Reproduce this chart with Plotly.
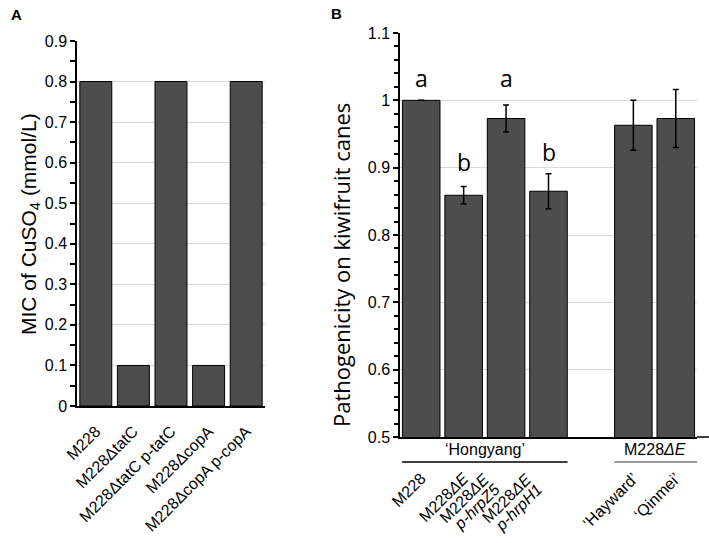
import plotly.graph_objects as go

# Panel A data
a_labels = ["M228", "M228ΔtatC", "M228ΔtatC p-tatC", "M228ΔcopA", "M228ΔcopA p-copA"]
a_values = [0.8, 0.1, 0.8, 0.1, 0.8]
a_ticks = [0, 0.1, 0.2, 0.3, 0.4, 0.5, 0.6, 0.7, 0.8, 0.9]

# Panel B data
b_positions = [0, 1, 2, 3, 5, 6]
b_single = ["M228", "M228<i>ΔE</i>", "", "", "‘Hayward’", "‘Qinmei’"]
b_multi_line1 = ["", "", "M228<i>ΔE</i>", "M228<i>ΔE</i>", "", ""]
b_multi_line2 = ["", "", "<i>p-hrpZ5</i>", "<i>p-hrpH1</i>", "", ""]
b_values = [1.0, 0.859, 0.973, 0.865, 0.963, 0.973]
b_errors = [0.0, 0.013, 0.020, 0.026, 0.037, 0.043]
b_letters = ["a", "b", "a", "b", "", ""]
b_letter_y = [1.033, 0.908, 1.033, 0.923, None, None]
b_ticks = [0.5, 0.6, 0.7, 0.8, 0.9, 1.0, 1.1]
b_ticktext = ["0.5", "0.6", "0.7", "0.8", "0.9", "1", "1.1"]
groups = ["‘Hongyang’", "M228<i>ΔE</i>"]
group_spans = [(0, 3), (5, 6)]

W, H = 709, 543
BAR = "#4d4d4d"
GRID = "#d9d9d9"
FONT = "Liberation Sans, Arial, sans-serif"
SLOT_PX = 297 / 7.0  # pixel width of one category slot in panel B

fig = go.Figure()
fig.add_trace(go.Bar(x=list(range(len(a_labels))), y=a_values, width=0.85,
                     marker=dict(color=BAR, line=dict(color="black", width=1)),
                     xaxis="x", yaxis="y", showlegend=False))
fig.add_trace(go.Bar(x=b_positions, y=b_values, width=0.885,
                     marker=dict(color=BAR, line=dict(color="black", width=1)),
                     error_y=dict(type="data", array=b_errors, color="black", thickness=1.5, width=3),
                     xaxis="x2", yaxis="y2", showlegend=False))
# invisible helpers so the overlay label axes are drawn
for ax in ["x3", "x4"]:
    fig.add_trace(go.Scatter(x=[0], y=[0.5], mode="markers", marker=dict(opacity=0), hoverinfo="skip",
                             xaxis=ax, yaxis="y2", showlegend=False))


def px_x(p):
    return p / W


def px_y(p):
    return 1 - p / H


tf = dict(family=FONT, size=16, color="black")
axis_common = dict(showline=True, linecolor="black", linewidth=1.5, automargin=False, tickfont=tf)
label_axis = dict(domain=[px_x(400), px_x(697)], anchor="y2", overlaying="x2", range=[-0.5, 6.5],
                  showline=False, showgrid=False, zeroline=False, ticks="", tickangle=-45,
                  automargin=False, tickfont=tf, tickmode="array")

fig.update_layout(
    width=W, height=H, margin=dict(l=0, r=0, t=0, b=0),
    paper_bgcolor="white", plot_bgcolor="white",
    xaxis=dict(domain=[px_x(77), px_x(265)], anchor="y", range=[-0.5, 4.5],
               tickmode="array", tickvals=list(range(len(a_labels))), ticktext=a_labels,
               tickangle=-45, ticks="", ticklabelstandoff=8, zeroline=False, showgrid=False, **axis_common),
    yaxis=dict(domain=[px_y(406), px_y(41)], anchor="x", range=[0, 0.9],
               tickmode="array", tickvals=a_ticks, ticktext=[("0" if v == 0 else f"{v:.1f}") for v in a_ticks],
               ticks="outside", ticklen=5, tickcolor="black", tickwidth=1.5,
               minor=dict(dtick=0.05, ticks="outside", ticklen=5, tickcolor="black", tickwidth=1.5, showgrid=False),
               showgrid=True, gridcolor=GRID, gridwidth=1, zeroline=False,
               **axis_common),
    xaxis2=dict(domain=[px_x(400), px_x(697)], anchor="y2", range=[-0.5, 6.5],
                tickmode="array", tickvals=[p for p, t in zip(b_positions, b_single) if t],
                ticktext=[t for t in b_single if t], tickangle=-45, ticklabelstandoff=24,
                ticks="", zeroline=False, showgrid=False, **axis_common),
    xaxis3=dict(tickvals=[p - 22 / SLOT_PX for p, t in zip(b_positions, b_multi_line1) if t],
                ticktext=[t for t in b_multi_line1 if t], ticklabelstandoff=29, **label_axis),
    xaxis4=dict(tickvals=[p - 11 / SLOT_PX for p, t in zip(b_positions, b_multi_line2) if t],
                ticktext=[t for t in b_multi_line2 if t], ticklabelstandoff=39, **label_axis),
    yaxis2=dict(domain=[px_y(437), px_y(33)], anchor="x2", range=[0.5, 1.1],
                tickmode="array", tickvals=b_ticks, ticktext=b_ticktext,
                ticks="outside", ticklen=5, tickcolor="black", tickwidth=1.5,
                minor=dict(dtick=0.02, ticks="outside", ticklen=4, tickcolor="black", tickwidth=1.5, showgrid=False),
                showgrid=True, gridcolor=GRID, gridwidth=1, zeroline=False,
                **axis_common),
)

# axis titles as annotations (fixed positions)
fig.add_annotation(x=px_x(15), y=px_y(224), xref="paper", yref="paper", text="MIC of CuSO<sub>4</sub> (mmol/L)",
                   textangle=-90, showarrow=False, font=dict(family=FONT, size=21, color="black"))
fig.add_annotation(x=px_x(341), y=px_y(265), xref="paper", yref="paper", text="Pathogenicity on kiwifruit canes",
                   textangle=-90, showarrow=False, font=dict(family="Open Sans, sans-serif", size=22, color="black"))

# letters
for x, t, y in zip(b_positions, b_letters, b_letter_y):
    if t:
        fig.add_annotation(x=x, y=y, xref="x2", yref="y2", text=t, showarrow=False,
                           font=dict(family="Open Sans, sans-serif", size=23, color="black"))

# group labels and lines
group_colors = ["black", "#777777"]
for (g, (s, e), c) in zip(groups, group_spans, group_colors):
    fig.add_annotation(x=(s + e) / 2, y=px_y(440), xref="x2", yref="paper", yanchor="top", text=g,
                       showarrow=False, borderpad=0, font=dict(family=FONT, size=16, color="black"))
    fig.add_shape(type="line", xref="x2", yref="paper", x0=s - 0.45, x1=(e + 0.6) if e == 6 else (e + 0.45),
                  y0=px_y(462), y1=px_y(462), line=dict(color=c, width=1.5))

# extend B baseline
fig.add_shape(type="line", xref="paper", yref="paper", x0=px_x(697), x1=1.0, y0=px_y(437), y1=px_y(437),
              line=dict(color="black", width=1.5))

# panel letters
fig.add_annotation(x=px_x(9), y=px_y(4), xref="paper", yref="paper", xanchor="left", yanchor="top",
                   text="<b>A</b>", showarrow=False, font=dict(family=FONT, size=15, color="black"))
fig.add_annotation(x=px_x(329), y=px_y(3), xref="paper", yref="paper", xanchor="left", yanchor="top",
                   text="<b>B</b>", showarrow=False, font=dict(family=FONT, size=15, color="black"))

fig.write_html("out.html", config={"displayModeBar": False},
               post_script="document.body.style.margin='0px';")
